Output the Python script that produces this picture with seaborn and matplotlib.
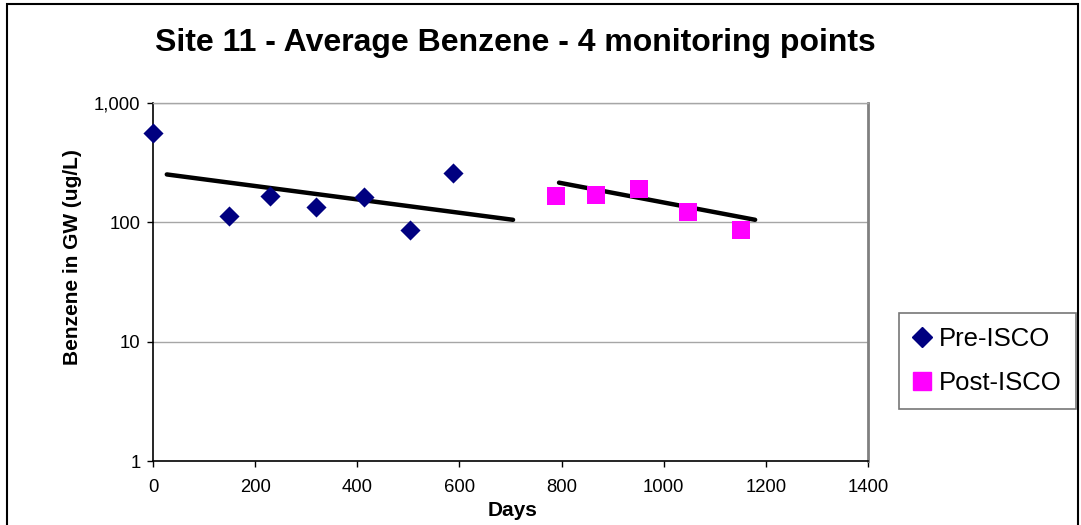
import numpy as np
import pandas as pd
import matplotlib
matplotlib.use("Agg")
import matplotlib.pyplot as plt
import seaborn as sns
from matplotlib.lines import Line2D
from matplotlib.patches import Rectangle

# ---- data ----
pre_days = [0, 149, 229, 320, 413, 503, 588]
pre_vals = [564, 113, 166, 134, 162, 87, 261]
post_days = [790, 868, 951, 1048, 1152]
post_vals = [165, 170, 189, 123, 86]
pre_trend_days = [27, 705]
pre_trend_vals = [252, 105]
post_trend_days = [795, 1179]
post_trend_vals = [215, 105]
x_ticks = [0, 200, 400, 600, 800, 1000, 1200, 1400]
y_ticks = [1, 10, 100, 1000]
y_tick_labels = ["1", "10", "100", "1,000"]

sns.set_style("white")
plt.rcParams["font.family"] = ["Liberation Sans", "DejaVu Sans"]
plt.rcParams["text.color"] = "black"
plt.rcParams["axes.labelcolor"] = "black"
plt.rcParams["xtick.color"] = "black"
plt.rcParams["ytick.color"] = "black"

fig = plt.figure(figsize=(10.81, 5.25), dpi=100)
ax = fig.add_axes([153 / 1081, 1 - 461 / 525, (868 - 153) / 1081, (461 - 103) / 525])

df_pre = pd.DataFrame({"Days": pre_days, "Benzene": pre_vals})
df_post = pd.DataFrame({"Days": post_days, "Benzene": post_vals})

ax.set_yscale("log")
ax.set_xlim(0, 1400)
ax.set_ylim(1, 1000)

for yv in [10, 100, 1000]:
    ax.axhline(yv, color="#a6a6a6", lw=1.0, zorder=0)

sns.lineplot(x=pre_trend_days, y=pre_trend_vals, ax=ax, color="black", lw=3.2, zorder=2)
sns.lineplot(x=post_trend_days, y=post_trend_vals, ax=ax, color="black", lw=3.2, zorder=2)

sns.scatterplot(data=df_pre, x="Days", y="Benzene", ax=ax, marker="D", s=105,
                color="#000080", linewidth=0, zorder=3, clip_on=False)
sns.scatterplot(data=df_post, x="Days", y="Benzene", ax=ax, marker="s", s=155,
                color="#FF00FF", linewidth=0, zorder=3, clip_on=False)

ax.set_xticks(x_ticks)
ax.set_xticklabels([str(t) for t in x_ticks])
ax.set_yticks(y_ticks)
ax.set_yticklabels(y_tick_labels)
ax.yaxis.set_minor_locator(matplotlib.ticker.NullLocator())
ax.tick_params(axis="both", which="major", labelsize=13.3, length=4, width=1,
               color="black", labelcolor="black", direction="out")
ax.tick_params(axis="x", pad=9)
ax.tick_params(axis="y", pad=5)
ax.tick_params(left=True, bottom=True)

for side in ["left", "bottom"]:
    ax.spines[side].set_color("black")
    ax.spines[side].set_linewidth(1.2)
ax.spines["right"].set_color("#808080")
ax.spines["right"].set_linewidth(2)
ax.spines["top"].set_color("#a6a6a6")
ax.spines["top"].set_linewidth(1.0)

ax.set_xlabel("")
ax.set_ylabel("")
fig.text(513 / 1081, 1 - 510 / 525, "Days", ha="center", va="center",
         fontsize=15, fontweight="bold")
fig.text(73 / 1081, 1 - 257 / 525, "Benzene in GW (ug/L)", ha="center", va="center",
         rotation=90, fontsize=15, fontweight="bold")

fig.text(515 / 1081, 1 - 43 / 525, "Site 11 - Average Benzene - 4 monitoring points",
         ha="center", va="center", fontsize=23, fontweight="bold")

handles = [
    Line2D([], [], marker="D", color="#000080", linestyle="none", markersize=10),
    Line2D([], [], marker="s", color="#FF00FF", linestyle="none", markersize=12.3),
]
leg = fig.legend(handles, ["Pre-ISCO", "Post-ISCO"], loc="center",
                 bbox_to_anchor=((902 + 1073) / 2 / 1081, 1 - 361 / 525),
                 fontsize=18.5, frameon=True, fancybox=False, handlelength=0.7,
                 handletextpad=0.3, borderpad=0.55, labelspacing=0.8,
                 borderaxespad=0)
leg.get_frame().set_edgecolor("#555555")
leg.get_frame().set_linewidth(1.2)

fig.patches.append(Rectangle((7 / 1081, -0.05), (1078 - 7) / 1081, 1.05 - 4 / 525,
                             transform=fig.transFigure, fill=False,
                             edgecolor="black", lw=1.5))

fig.savefig("out.png", dpi=100, facecolor="white")
